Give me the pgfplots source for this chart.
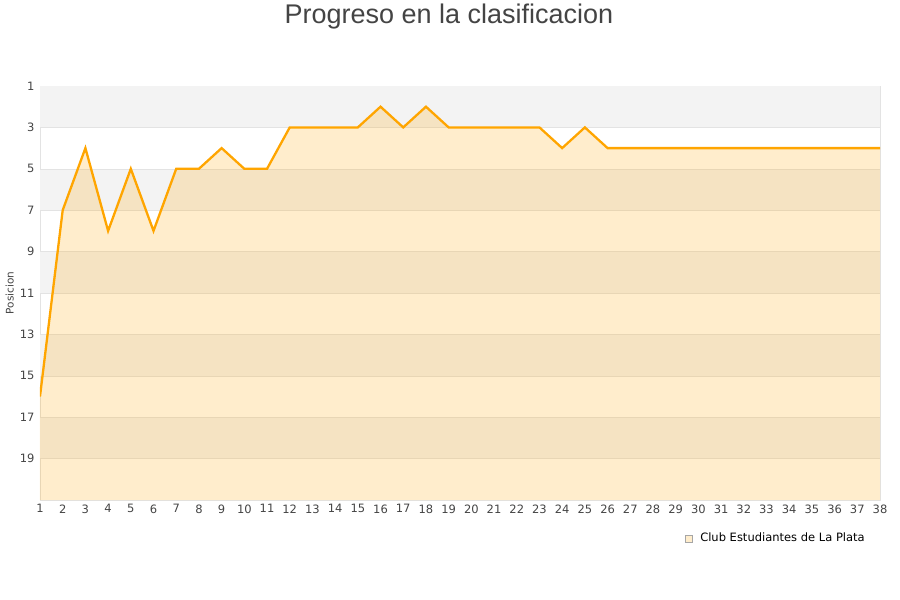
\documentclass[border=0pt]{standalone}
\usepackage{pgfplots}
\pgfplotsset{compat=1.18}
\usepackage{fontspec}
\setmainfont{DejaVu Sans}
\newfontfamily\titlefont{Liberation Sans}
\definecolor{lineor}{HTML}{FFA500}
\definecolor{bandgray}{HTML}{F3F3F3}
\definecolor{gridc}{HTML}{E3E3E3}
\definecolor{txt}{HTML}{444444}
\definecolor{legfill}{HTML}{FFEDCC}
\begin{document}
\begin{tikzpicture}
\path[use as bounding box] (-40pt,-100pt) rectangle (860pt,500pt);
\begin{axis}[
  at={(0pt,0pt)}, anchor=south west,
  scale only axis, width=840pt, height=414pt,
  xmin=1, xmax=38, ymin=1, ymax=21,
  y dir=reverse,
  xtick={1,...,38}, ytick={1,3,...,19},
  tick style={draw=none},
  axis line style={draw=gridc, line width=0.8pt},
  ticklabel style={font=\fontsize{11.5}{13}\selectfont, text=txt},
  /pgf/number format/assume math mode=true,
  xticklabel style={yshift=-1pt},
  yticklabel style={xshift=-2pt},
  ylabel={Posicion}, ylabel style={font=\fontsize{10.5}{12}\selectfont, text=txt, at={(axis description cs:-0.036,0.5)}, anchor=center},
  legend style={at={(0.988,-0.07)}, anchor=north east, draw=none, fill=none,
    font=\fontsize{11.5}{13}\selectfont, legend cell align=left},
  clip=true,
]
% alternating background bands
\fill[bandgray] (axis cs:1,1) rectangle (axis cs:38,3);
\fill[bandgray] (axis cs:1,5) rectangle (axis cs:38,7);
\fill[bandgray] (axis cs:1,9) rectangle (axis cs:38,11);
\fill[bandgray] (axis cs:1,13) rectangle (axis cs:38,15);
\fill[bandgray] (axis cs:1,17) rectangle (axis cs:38,19);
\pgfplotsinvokeforeach{3,5,...,19}{\draw[gridc, line width=0.6pt] (axis cs:1,#1) -- (axis cs:38,#1);}

\addplot[draw=none, fill=lineor, fill opacity=0.2,
  legend image code/.code={\draw[fill=legfill, draw=gray!70, line width=0.6pt, fill opacity=1] (0pt,-3.5pt) rectangle (7pt,3.5pt); \path (13pt,0pt);}]
  coordinates {
  (1,21) (1,16) (2,7) (3,4) (4,8) (5,5) (6,8) (7,5) (8,5) (9,4) (10,5)
  (11,5) (12,3) (13,3) (14,3) (15,3) (16,2) (17,3) (18,2) (19,3) (20,3)
  (21,3) (22,3) (23,3) (24,4) (25,3) (26,4) (27,4) (28,4) (29,4) (30,4)
  (31,4) (32,4) (33,4) (34,4) (35,4) (36,4) (37,4) (38,4) (38,21)
};
\addlegendentry{Club Estudiantes de La Plata}
\addplot[lineor, line width=2.3pt, mark=none, forget plot] coordinates {
  (1,16) (2,7) (3,4) (4,8) (5,5) (6,8) (7,5) (8,5) (9,4) (10,5)
  (11,5) (12,3) (13,3) (14,3) (15,3) (16,2) (17,3) (18,2) (19,3) (20,3)
  (21,3) (22,3) (23,3) (24,4) (25,3) (26,4) (27,4) (28,4) (29,4) (30,4)
  (31,4) (32,4) (33,4) (34,4) (35,4) (36,4) (37,4) (38,4)
};
\end{axis}
\node[font=\titlefont\fontsize{27}{30}\selectfont, text=txt] at (409pt,483pt) {Progreso en la clasificacion};
\end{tikzpicture}
\end{document}
